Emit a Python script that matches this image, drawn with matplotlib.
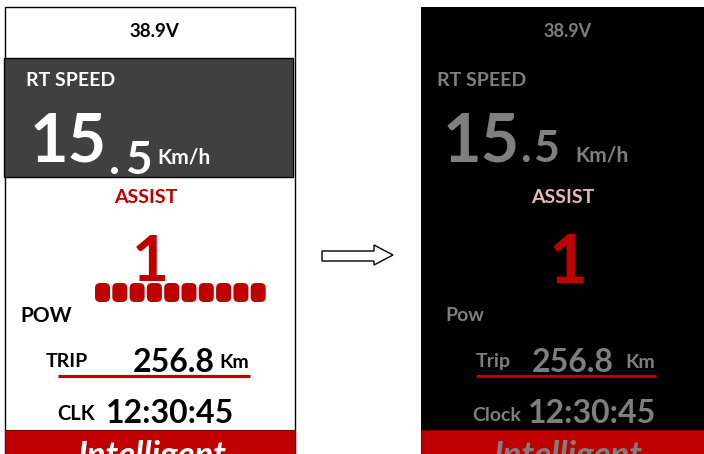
import matplotlib.pyplot as plt
from matplotlib.patches import Rectangle, FancyBboxPatch, Polygon

# display values
voltage = "38.9V"
speed_int = "15"
speed_frac = "5"
speed_unit = "Km/h"
assist_level = "1"
n_segments = 10
trip = "256.8"
trip_unit = "Km"
clock = "12:30:45"
mode = "Intelligent"
labels_old = ["RT SPEED", "ASSIST", "POW", "TRIP", "CLK"]
labels_new = ["RT SPEED", "ASSIST", "Pow", "Trip", "Clock"]

RED = "#C00000"
GREY = "#7F7F7F"
PINK = "#E6B9B8"
FONT = "Lato"

fig = plt.figure(figsize=(7.04, 4.54), dpi=100)
ax = fig.add_axes([0, 0, 1, 1])
ax.set_xlim(0, 704)
ax.set_ylim(454, 0)
ax.axis("off")


def txt(x, y, s, size, color, ha="left", style="normal"):
    ax.text(x, y, s, fontsize=size, color=color, ha=ha, va="baseline",
            fontweight="bold", fontstyle=style, family=FONT)


# ---- left panel (old design) ----
ax.add_patch(Rectangle((5, 7), 290, 460, facecolor="white", edgecolor="black", lw=1))
ax.add_patch(Rectangle((4, 58), 289, 119, facecolor="#404040", edgecolor="black", lw=1))
txt(154, 37, voltage, 13.5, "black", ha="center")
txt(26, 86, labels_old[0], 14, "white")
txt(30, 162, speed_int, 48, "white")
txt(109, 174, ".", 33, "white")
txt(126, 174, speed_frac, 33, "white")
txt(157, 163, speed_unit, 15, "white")
txt(146, 203, labels_old[1], 14, RED, ha="center")
txt(150, 281, assist_level, 46, RED, ha="center")
for i in range(n_segments):
    ax.add_patch(FancyBboxPatch((95 + i * 17.3, 283), 15, 19,
                                boxstyle="round,pad=0,rounding_size=5",
                                facecolor=RED, edgecolor="none"))
txt(20, 322, labels_old[2], 15, "black")
txt(46, 367, labels_old[3], 14, "black")
txt(133, 372, trip, 23, "black")
txt(219, 368, trip_unit, 14, "black")
ax.plot([58, 250], [376, 376], color=RED, lw=2.3, solid_capstyle="butt")
txt(57, 420, labels_old[4], 14.5, "black")
txt(106, 423, clock, 23, "black")
ax.add_patch(Rectangle((5, 430), 290, 40, facecolor=RED, edgecolor="#7F0000", lw=0.8))
txt(152, 466, mode, 25, "white", ha="center", style="italic")

# ---- arrow ----
ax.add_patch(Polygon([(322, 251), (374, 251), (374, 245), (393, 255),
                      (374, 265), (374, 261), (322, 261)],
                     closed=True, facecolor="white", edgecolor="black", lw=1))

# ---- right panel (new design) ----
ax.add_patch(Rectangle((421, 7), 290, 460, facecolor="black", edgecolor="none"))
txt(568, 37, voltage, 13, GREY, ha="center")
txt(437, 86, labels_new[0], 14, GREY)
txt(443, 162, speed_int, 48, GREY)
txt(520, 162, ".", 32, GREY)
txt(533, 162, speed_frac, 32, GREY)
txt(575, 162, speed_unit, 15, GREY)
txt(563, 203, labels_new[1], 14, PINK, ha="center")
txt(568, 283, assist_level, 48, RED, ha="center")
txt(445, 321, labels_new[2], 14, GREY)
txt(476, 367, labels_new[3], 14, GREY)
txt(532, 372, trip, 23, GREY)
txt(625, 368, trip_unit, 14, GREY)
ax.plot([476, 656], [376, 376], color=RED, lw=2.3, solid_capstyle="butt")
txt(472, 421, labels_new[4], 14, GREY)
txt(528, 423, clock, 23, GREY)
ax.add_patch(Rectangle((421, 430), 290, 40, facecolor=RED, edgecolor="#7F0000", lw=0.8))
txt(568, 466, mode, 25, GREY, ha="center", style="italic")

fig.savefig("out.png", dpi=100)
